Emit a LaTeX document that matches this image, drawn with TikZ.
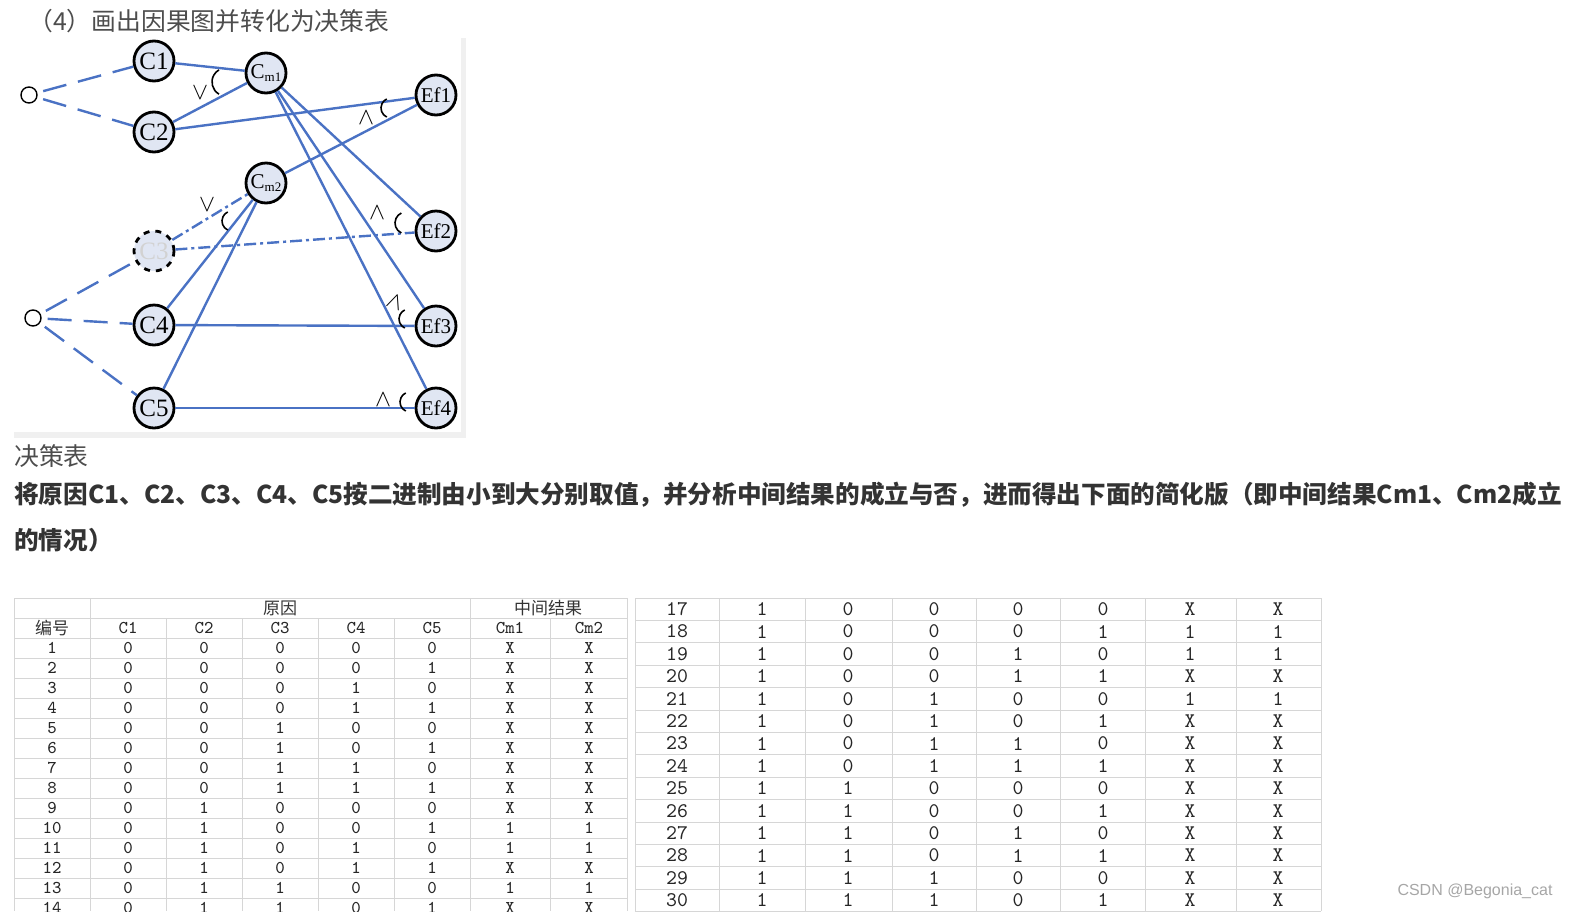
\documentclass[tikz,border=0pt]{standalone}
\usepackage{fontspec}
\newfontfamily\cjk{Noto Sans CJK SC}
\newfontfamily\labelfont{Liberation Serif}
\newfontfamily\wmfont{Liberation Sans}
\definecolor{lineblue}{RGB}{74,114,196}
\definecolor{nodefill}{RGB}{224,230,243}
\definecolor{gridgray}{RGB}{214,214,214}
\definecolor{textgray}{RGB}{77,77,77}
\begin{document}
\begin{tikzpicture}[x=0.5pt,y=-0.5pt,
  cause/.style={circle,draw=black,line width=1.4pt,fill=nodefill,minimum size=20pt,inner sep=0pt,font=\labelfont\fontsize{12.5}{12.5}\selectfont},
  effect/.style={cause,font=\labelfont\fontsize{10.5}{10.5}\selectfont},
  origin/.style={circle,draw=black,line width=0.7pt,minimum size=8pt,inner sep=0pt},
  link/.style={lineblue,line width=1.2pt},
  guess/.style={link,dash pattern=on 12pt off 6pt,shorten <=3pt},
  hidden/.style={link,dash pattern=on 6pt off 2pt on 1.5pt off 2pt},
  gate/.style={font=\fontsize{13}{13}\selectfont,inner sep=0pt},
  gatearc/.style={black,line width=0.8pt},
  tableline/.style={gridgray,line width=0.5pt},
  hd/.style={font=\cjk\fontsize{8.5}{8.5}\selectfont,text=black!80,inner sep=0pt},
  lcell/.style={font=\ttfamily\fontsize{9}{9}\selectfont,text=black!85,inner sep=0pt},
  rcell/.style={font=\ttfamily\fontsize{10.4}{10.4}\selectfont,text=black!85,inner sep=0pt}]
\useasboundingbox (0,0) rectangle (1569,911);
\clip (0,0) rectangle (1569,911);

% heading
\node[anchor=west,inner sep=0pt,font=\cjk\fontsize{12.4}{12.4}\selectfont,text=textgray] (title) at (28,21) {（4）画出因果图并转化为决策表};

% cause-effect graph
\fill[gray!12] (14,38) rectangle (466,438);
\fill[white] (14,38) rectangle (461,432);
\node[origin] (O1) at (29,95) {};
\node[origin] (O2) at (33,318) {};
\node[cause] (C1) at (154,61) {C1};
\node[cause] (C2) at (154,132) {C2};
\node[cause,dashed,text=gray!35] (C3) at (154,251) {C3};
\node[cause] (C4) at (154,325) {C4};
\node[cause] (C5) at (154,408) {C5};
\node[effect] (Cm1) at (266,73) {C\raisebox{-0.35ex}{\fontsize{6.5}{6.5}\selectfont m1}};
\node[effect] (Cm2) at (266,183) {C\raisebox{-0.35ex}{\fontsize{6.5}{6.5}\selectfont m2}};
\node[effect] (Ef1) at (436,95) {Ef1};
\node[effect] (Ef2) at (436,231) {Ef2};
\node[effect] (Ef3) at (436,326) {Ef3};
\node[effect] (Ef4) at (436,408) {Ef4};

\draw[guess] (O1) -- (C1);
\draw[guess] (O1) -- (C2);
\draw[guess] (O2) -- (C3);
\draw[guess] (O2) -- (C4);
\draw[guess] (O2) -- (C5);
\draw[link] (C1) -- (Cm1);
\draw[link] (C2) -- (Cm1);
\draw[link] (C2) -- (Ef1);
\draw[link] (Cm2) -- (Ef1);
\draw[link] (Cm1) -- (Ef2);
\draw[link] (Cm1) -- (Ef3);
\draw[link] (Cm1) -- (Ef4);
\draw[link] (C4) -- (Cm2);
\draw[link] (C5) -- (Cm2);
\draw[link] (C4) -- (Ef3);
\draw[link] (C5) -- (Ef4);
\draw[hidden] (C3) -- (Cm2);
\draw[hidden] (C3) -- (Ef2);

% gates
\node[gate] (or1) at (200,93) {$\vee$};
\node[gate] (or2) at (207,205) {$\vee$};
\node[gate] (and1) at (366,118) {$\wedge$};
\node[gate] (and2) at (377,213) {$\wedge$};
\node[gate,rotate=-20] (and3) at (395,302) {$\wedge$};
\node[gate] (and4) at (383,400) {$\wedge$};
\draw[gatearc] (Cm1.center) ++(-40,9) ++(120:14) arc[start angle=120,end angle=240,radius=14];
\draw[gatearc] (Cm2.center) ++(-34,38) ++(115:10) arc[start angle=115,end angle=245,radius=10];
\draw[gatearc] (Ef1.center) ++(-45,13) ++(115:10) arc[start angle=115,end angle=245,radius=10];
\draw[gatearc] (Ef2.center) ++(-30,-8) ++(115:11) arc[start angle=115,end angle=245,radius=11];
\draw[gatearc] (Ef3.center) ++(-27,-7) ++(115:10) arc[start angle=115,end angle=245,radius=10];
\draw[gatearc] (Ef4.center) ++(-26,-6) ++(115:10) arc[start angle=115,end angle=245,radius=10];

% text
\node[anchor=west,inner sep=0pt,font=\cjk\fontsize{12.4}{12.4}\selectfont,text=textgray] (dt) at (14,456) {决策表};
\node[anchor=west,inner sep=0pt,font=\cjk\bfseries\fontsize{12.3}{12.3}\selectfont,text=black!80] (intro) at (14,495) {将原因C1、C2、C3、C4、C5按二进制由小到大分别取值，并分析中间结果的成立与否，进而得出下面的简化版（即中间结果Cm1、Cm2成立};
\node[anchor=west,inner sep=0pt,font=\cjk\bfseries\fontsize{12.3}{12.3}\selectfont,text=black!80] (intro2) at (14,540) {的情况）};

% left table
\draw[tableline] (14,598) -- (627,598);
\foreach \y in {618,638,...,898}
  \draw[tableline] (14,\y) -- (627,\y);
\foreach \x in {14,90,470,627}
  \draw[tableline] (\x,598) -- (\x,911);
\foreach \x in {166,242,318,394,550}
  \draw[tableline] (\x,618) -- (\x,911);
\node[hd] (h-cause) at (280,608) {原因};
\node[hd] (h-mid) at (548,608) {中间结果};
\node[hd] (h-no) at (52,628) {编号};
\foreach \t [count=\j from 2] in {C1,C2,C3,C4,C5,Cm1,Cm2}{
  \pgfmathsetmacro\cx{{52,128,204,280,356,432,510,589}[\j-1]}
  \node[lcell] (h-\j) at (\cx,628) {\t};
}
\foreach \row [count=\i] in {{1,0,0,0,0,0,X,X},{2,0,0,0,0,1,X,X},{3,0,0,0,1,0,X,X},{4,0,0,0,1,1,X,X},
  {5,0,0,1,0,0,X,X},{6,0,0,1,0,1,X,X},{7,0,0,1,1,0,X,X},{8,0,0,1,1,1,X,X},{9,0,1,0,0,0,X,X},
  {10,0,1,0,0,1,1,1},{11,0,1,0,1,0,1,1},{12,0,1,0,1,1,X,X},{13,0,1,1,0,0,1,1},{14,0,1,1,0,1,X,X}}{
  \foreach \v [count=\j] in \row{
    \pgfmathsetmacro\cx{{52,128,204,280,356,432,510,589}[\j-1]}
    \node[lcell] (l-\i-\j) at (\cx,628+20*\i) {\v};
  }
}

% right table
\foreach \k in {0,...,14}
  \draw[tableline] (635,598+22.4*\k) -- (1321,598+22.4*\k);
\foreach \x in {635,719,805,892,976,1060,1145,1236,1321}
  \draw[tableline] (\x,598) -- (\x,911);
\foreach \row [count=\i] in {{17,1,0,0,0,0,X,X},{18,1,0,0,0,1,1,1},{19,1,0,0,1,0,1,1},{20,1,0,0,1,1,X,X},
  {21,1,0,1,0,0,1,1},{22,1,0,1,0,1,X,X},{23,1,0,1,1,0,X,X},{24,1,0,1,1,1,X,X},{25,1,1,0,0,0,X,X},
  {26,1,1,0,0,1,X,X},{27,1,1,0,1,0,X,X},{28,1,1,0,1,1,X,X},{29,1,1,1,0,0,X,X},{30,1,1,1,0,1,X,X}}{
  \foreach \v [count=\j] in \row{
    \pgfmathsetmacro\cx{{677,762,848,934,1018,1103,1190,1278}[\j-1]}
    \node[rcell] (r-\i-\j) at (\cx,609.2+22.4*\i-22.4) {\v};
  }
}

\node[font=\wmfont\fontsize{8}{8}\selectfont,text=gray!70,inner sep=0pt] (wm) at (1475,891) {CSDN @Begonia\_cat};
\end{tikzpicture}
\end{document}
